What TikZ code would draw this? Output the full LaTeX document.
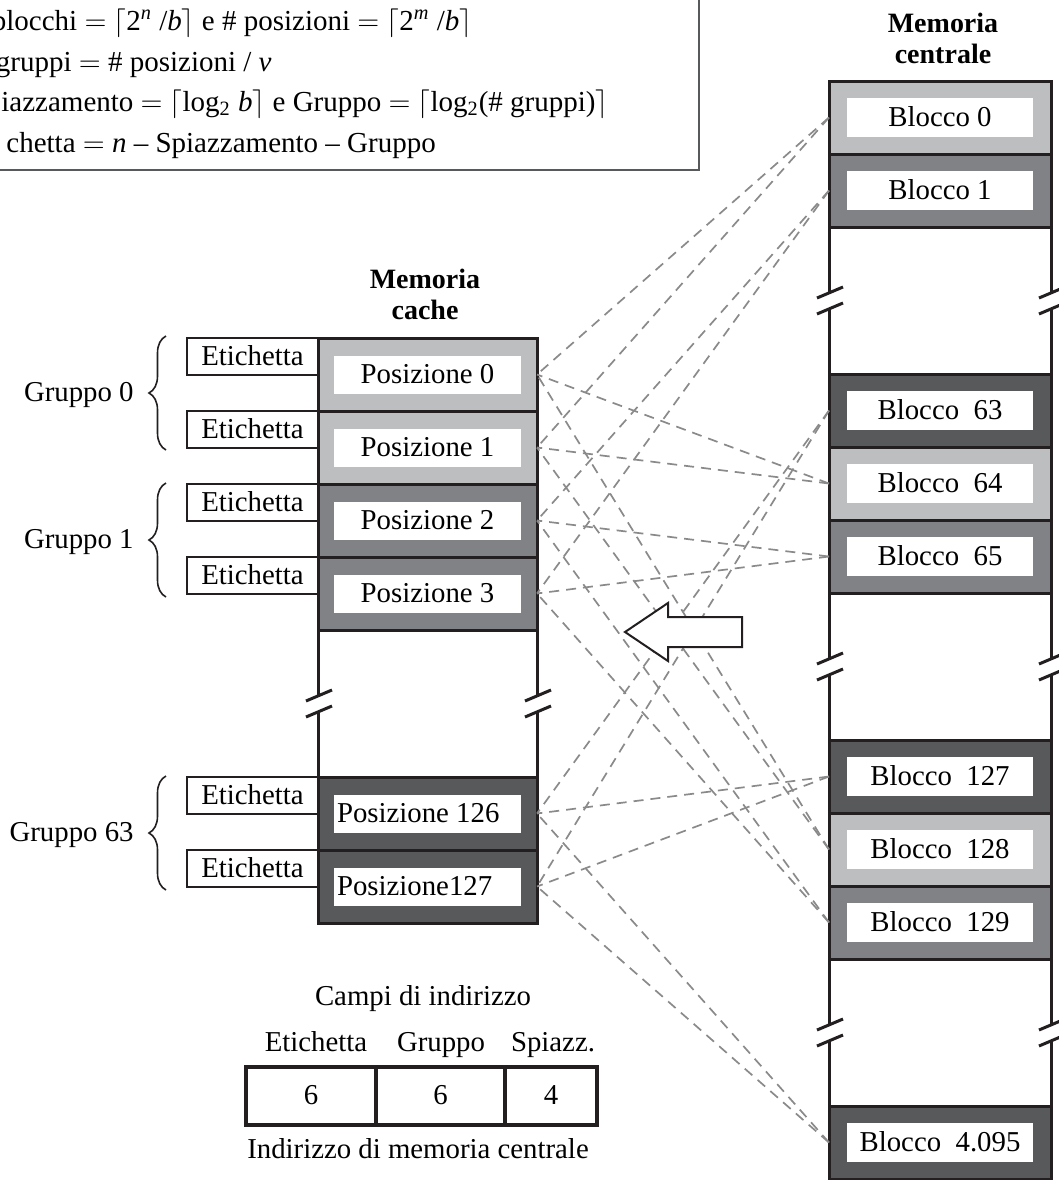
\documentclass[tikz,border=0pt]{standalone}
\usepackage{fontspec}
\setmainfont{Liberation Serif}
\usetikzlibrary{calc,decorations.pathreplacing}
\definecolor{bdc}{HTML}{231F20}
\definecolor{lgc}{HTML}{BCBEC0}
\definecolor{mgc}{HTML}{808285}
\definecolor{dgc}{HTML}{58595B}
\definecolor{lnkc}{HTML}{8A8A8A}
\definecolor{frc}{HTML}{58595B}
\newcommand\gapline[3]{%
  \pgfmathsetmacro\gapmid{(#2+#3)/2}%
  \draw[bdline] (#1,#2) -- (#1,\gapmid-8);
  \draw[bdline] (#1,\gapmid+8) -- (#1,#3);
  \draw[bdline] (#1-12,\gapmid-8+5.5) -- (#1+14,\gapmid-8-5.5);
  \draw[bdline] (#1-12,\gapmid+8+5.5) -- (#1+14,\gapmid+8-5.5);
}
\begin{document}
\begin{tikzpicture}[x=0.5pt,y=-0.5pt,
  txt/.style={font=\fontsize{14.4}{17}\selectfont, inner sep=0pt, text height=11pt, text depth=2.2pt},
  ftxt/.style={font=\fontsize{14.5}{17}\selectfont, inner sep=0pt, anchor=base west},
  ttl/.style={font=\fontsize{14}{15.8}\selectfont\bfseries, align=center, inner sep=0pt},
  memrow/.style={draw=bdc, line width=1.5pt, minimum width=111pt, minimum height=36.5pt, inner sep=0pt, outer sep=0pt},
  cacherow/.style={memrow, minimum width=109.5pt},
  memcell/.style={txt, fill=white, minimum width=93pt, minimum height=19.5pt},
  cachecell/.style={txt, fill=white, minimum width=93.5pt, minimum height=19pt},
  tagbox/.style={txt, draw=bdc, line width=0.8pt, minimum width=65.5pt, minimum height=18.5pt},
  fieldbox/.style={txt, draw=bdc, line width=2pt, minimum height=29pt},
  lnk/.style={draw=lnkc, line width=0.85pt, dash pattern=on 5pt off 3.5pt},
  bdline/.style={draw=bdc, line width=1.5pt},
  grp/.style={draw=bdc, line width=0.8pt, decorate, decoration={brace, amplitude=8.5pt}},
]
\useasboundingbox (0,0) rectangle (1059,1180);
\clip (0,0) rectangle (1059,1180);

% formula box
\draw[draw=frc, line width=0.9pt] (-20,-20) rectangle (699,170);
\node[ftxt] (fm1) at (-8.5,30) {blocchi $=$ $\lceil$2\textsuperscript{\textit{n}} /\textit{b}$\rceil$ e \# posizioni $=$ $\lceil$2\textsuperscript{\textit{m}} /\textit{b}$\rceil$};
\node[ftxt] (fm2) at (-4.5,71) {gruppi $=$ \# posizioni / \textit{v}};
\node[ftxt] (fm3) at (1,111) {iazzamento $=$ $\lceil$log\textsubscript{2} \textit{b}$\rceil$ e Gruppo $=$ $\lceil$log\textsubscript{2}(\# gruppi)$\rceil$};
\node[ftxt] (fm4) at (6,152) {chetta $=$ \textit{n} -- Spiazzamento -- Gruppo};

% titles
\node[ttl] (mtitle) at (943,38.5) {Memoria\\centrale};
\node[ttl] (ctitle) at (425,294.5) {Memoria\\cache};

% main memory
\node[memrow, fill=lgc] (b0) at (940,117.5) {};
\node[memcell] (b0t) at (b0) {Blocco 0};
\node[memrow, fill=mgc] (b1) at (940,190.5) {};
\node[memcell] (b1t) at (b1) {Blocco 1};
\node[memrow, fill=dgc] (b63) at (940,410.5) {};
\node[memcell] (b63t) at (b63) {Blocco~ 63};
\node[memrow, fill=lgc] (b64) at (940,483.5) {};
\node[memcell] (b64t) at (b64) {Blocco~ 64};
\node[memrow, fill=mgc] (b65) at (940,556.5) {};
\node[memcell] (b65t) at (b65) {Blocco~ 65};
\node[memrow, fill=dgc] (b127) at (940,776.5) {};
\node[memcell] (b127t) at (b127) {Blocco~ 127};
\node[memrow, fill=lgc] (b128) at (940,849.5) {};
\node[memcell] (b128t) at (b128) {Blocco~ 128};
\node[memrow, fill=mgc] (b129) at (940,922.5) {};
\node[memcell] (b129t) at (b129) {Blocco~ 129};
\node[memrow, fill=dgc] (b4095) at (940,1142.5) {};
\node[memcell] (b4095t) at (b4095) {Blocco~ 4.095};

\gapline{829}{227}{374}
\gapline{1051}{227}{374}
\gapline{829}{593}{740}
\gapline{1051}{593}{740}
\gapline{829}{959}{1106}
\gapline{1051}{959}{1106}

% cache
\node[cacherow, fill=lgc] (p0) at (427.5,374.5) {};
\node[cachecell] (p0t) at (p0) {Posizione 0};
\node[cacherow, fill=lgc] (p1) at (427.5,447.5) {};
\node[cachecell] (p1t) at (p1) {Posizione 1};
\node[cacherow, fill=mgc] (p2) at (427.5,520.5) {};
\node[cachecell] (p2t) at (p2) {Posizione 2};
\node[cacherow, fill=mgc] (p3) at (427.5,593.5) {};
\node[cachecell] (p3t) at (p3) {Posizione 3};
\node[cacherow, fill=dgc] (p126) at (427.5,813.5) {};
\node[cachecell] (p126t) at (p126) {};
\node[txt, anchor=west] (p126l) at ([xshift=1.5pt]p126t.west) {Posizione 126};
\node[cacherow, fill=dgc] (p127) at (427.5,886.5) {};
\node[cachecell] (p127t) at (p127) {};
\node[txt, anchor=west] (p127l) at ([xshift=1.5pt]p127t.west) {Posizione127};

\gapline{318}{630}{777}
\gapline{537}{630}{777}

% tags
\node[tagbox] (e0) at (252.5,356.5) {Etichetta};
\node[tagbox] (e1) at (252.5,429.5) {Etichetta};
\node[tagbox] (e2) at (252.5,502.5) {Etichetta};
\node[tagbox] (e3) at (252.5,575.5) {Etichetta};
\node[tagbox] (e126) at (252.5,795.5) {Etichetta};
\node[tagbox] (e127) at (252.5,868.5) {Etichetta};

% braces and group labels
\draw[grp] (166,450) -- (166,336);
\draw[grp] (166,597) -- (166,483);
\draw[grp] (166,890) -- (166,776);
\node[txt, anchor=east] (g0) at (134,393) {Gruppo 0};
\node[txt, anchor=east] (g1) at (134,540) {Gruppo 1};
\node[txt, anchor=east] (g63) at (134,833) {Gruppo 63};

% connectors
\foreach \bb/\pp in {b0/p0, b0/p1, b1/p2, b1/p3, b63/p126, b63/p127,
                     b64/p0, b64/p1, b65/p2, b65/p3, b127/p126, b127/p127,
                     b128/p0, b128/p1, b129/p2, b129/p3, b4095/p126, b4095/p127}
  \draw[lnk] (\bb.west) -- (\pp.east);

% big arrow
\draw[draw=bdc, line width=1pt, fill=white] (625,632) -- (668,603) -- (668,617) -- (742,617) -- (742,647) -- (668,647) -- (668,661) -- cycle;

% address fields
\node[txt] (campi) at (423,997) {Campi di indirizzo};
\node[txt] (le) at (316,1043) {Etichetta};
\node[txt] (lg) at (441,1043) {Gruppo};
\node[txt] (ls) at (553,1043) {Spiazz.};
\node[fieldbox, minimum width=65pt] (fe) at (311,1096) {6};
\node[fieldbox, minimum width=64.5pt] (fg) at (440.5,1096) {6};
\node[fieldbox, minimum width=46pt] (fs) at (551,1096) {4};
\node[txt] (ind) at (418,1150) {Indirizzo di memoria centrale};
\end{tikzpicture}
\end{document}
